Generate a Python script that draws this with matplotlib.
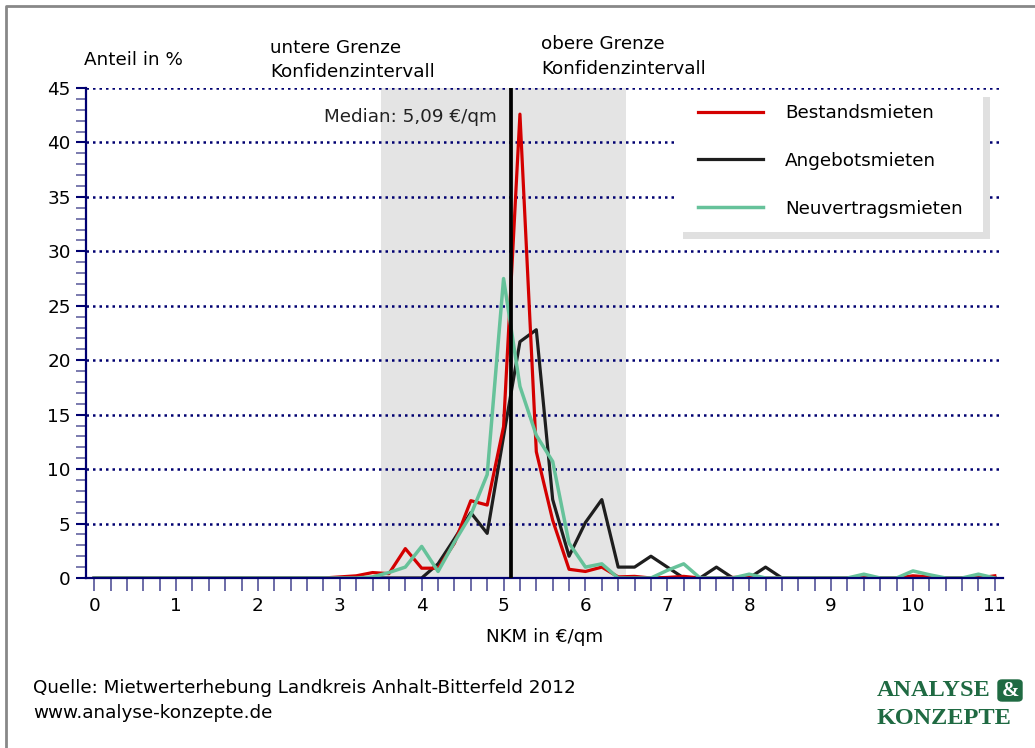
import numpy as np
import matplotlib as mpl
from matplotlib import pyplot as plt
from matplotlib.patches import Rectangle, FancyBboxPatch
from matplotlib.lines import Line2D

mpl.use('Agg')

# Mietpreisverteilung, Klassen zu je 0,20 EUR/qm (0 ... 11)
nkm = np.round(np.arange(0, 11.01, 0.2), 1)

bestandsmieten = [0, 0, 0, 0, 0, 0, 0, 0, 0, 0, 0, 0, 0, 0, 0,
                  0.1, 0.2, 0.5, 0.4, 2.7, 0.9, 0.9, 3.2, 7.1, 6.7,
                  13.9, 42.6, 11.6, 5.3, 0.8, 0.6, 1.0, 0.1, 0.15, 0,
                  0.05, 0.15, 0, 0, 0.05, 0.1, 0, 0, 0, 0,
                  0, 0, 0, 0, 0, 0.2, 0.1, 0, 0, 0, 0.2]
angebotsmieten = [0, 0, 0, 0, 0, 0, 0, 0, 0, 0, 0, 0, 0, 0, 0,
                  0, 0, 0, 0, 0, 0, 1.3, 3.6, 6.0, 4.1,
                  13.0, 21.7, 22.8, 7.2, 2.0, 5.1, 7.2, 1.0, 1.0, 2.0,
                  1.0, 0, 0, 1.0, 0, 0, 1.0, 0, 0, 0,
                  0, 0, 0, 0, 0, 0, 0, 0, 0, 0, 0]
neuvertragsmieten = [0, 0, 0, 0, 0, 0, 0, 0, 0, 0, 0, 0, 0, 0, 0,
                     0, 0, 0.1, 0.5, 1.0, 2.9, 0.6, 3.3, 5.8, 9.5,
                     27.5, 17.6, 13.1, 10.7, 3.2, 1.0, 1.3, 0, 0, 0,
                     0.7, 1.3, 0, 0, 0, 0.35, 0, 0, 0, 0,
                     0, 0, 0.35, 0, 0, 0.65, 0.3, 0, 0, 0.35, 0]

median = 5.09
konf_unten, konf_oben = 3.5, 6.5

navy = '#000070'
red = '#d40000'
black = '#1e1e1e'
green = '#66c29a'
logo_green = '#1f6a42'
fs = 13.2

plt.rcParams['font.family'] = ['DejaVu Sans']

W, H = 1035, 748
fig = plt.figure(figsize=(W / 100, H / 100), dpi=100)
ax = fig.add_axes([86 / W, 1 - 578 / H, (1003 - 86) / W, (578 - 88) / H])

ax.axvspan(konf_unten, konf_oben, color='#e4e4e4', lw=0, zorder=0.2)
for yv in range(5, 50, 5):
    ax.axhline(yv, color=navy, lw=1.8, ls=(0, (1, 1.6)), zorder=0.6)

ax.plot(nkm, angebotsmieten, color=black, lw=2.3, label='Angebotsmieten', zorder=3)
ax.plot(nkm, bestandsmieten, color=red, lw=2.3, label='Bestandsmieten', zorder=3.2)
ax.plot(nkm, neuvertragsmieten, color=green, lw=2.5, label='Neuvertragsmieten', zorder=3.4)
ax.axvline(median, color='black', lw=2.7, zorder=5)

ax.text(4.92, 42.3, 'Median: 5,09 €/qm', ha='right', va='center',
        fontsize=fs, color='#222222', zorder=6)

ax.set_xlim(-0.1, 11.1)
ax.set_ylim(0, 45)
ax.set_xticks(range(0, 12))
ax.set_xticks(np.arange(0, 11.01, 0.2), minor=True)
ax.set_yticks(range(0, 46, 5))
ax.set_yticks(range(0, 46), minor=True)

for s in ['top', 'right']:
    ax.spines[s].set_visible(False)
for s in ['left', 'bottom']:
    ax.spines[s].set_color(navy)
    ax.spines[s].set_linewidth(1.6)
    ax.spines[s].set_zorder(4)

ax.tick_params(axis='x', which='both', direction='out', length=9, width=1.3,
               color='#6060a0', labelsize=fs, pad=5)
ax.tick_params(axis='y', which='major', direction='out', length=7, width=1.5,
               color=navy, labelsize=fs, pad=4)
ax.tick_params(axis='y', which='minor', direction='out', length=7, width=1.3,
               color='#7070a8')

ax.set_xlabel('NKM in €/qm', fontsize=fs, labelpad=9)

# Legende mit grauem Schatten
ax.add_patch(Rectangle((683 / W, 1 - 239 / H), 307 / W, 142 / H, transform=fig.transFigure,
                       color='#e0e0e0', lw=0, zorder=6, clip_on=False))
ax.add_patch(Rectangle((676 / W, 1 - 232 / H), 307 / W, 142 / H, transform=fig.transFigure,
                       color='white', lw=0, zorder=7, clip_on=False))
handles, labels = ax.get_legend_handles_labels()
order = [1, 0, 2]
leg = ax.legend([handles[i] for i in order], [labels[i] for i in order],
                loc='upper left', bbox_to_anchor=(698 / W, 1 - 104 / H),
                bbox_transform=fig.transFigure, frameon=False, fontsize=fs,
                handlelength=3.55, handletextpad=1.2, labelspacing=1.63,
                borderpad=0, borderaxespad=0)
leg.set_zorder(8)

fig.text(84 / W, 1 - 60 / H, 'Anteil in %', fontsize=fs, va='center', ha='left')
fig.text(270 / W, 1 - 60 / H, 'untere Grenze\nKonfidenzintervall', fontsize=fs,
         va='center', ha='left', linespacing=1.45)
fig.text(541 / W, 1 - 56.5 / H, 'obere Grenze\nKonfidenzintervall', fontsize=fs,
         va='center', ha='left', linespacing=1.45)

fig.text(33 / W, 1 - 688 / H, 'Quelle: Mietwerterhebung Landkreis Anhalt-Bitterfeld 2012',
         fontsize=fs, va='center', ha='left')
fig.text(33 / W, 1 - 713 / H, 'www.analyse-konzepte.de', fontsize=fs, va='center', ha='left')

# Logo
fig.text(877 / W, 1 - 690 / H, 'ANALYSE', fontsize=17.5, fontweight='bold',
         family='Liberation Serif', color=logo_green, va='center', ha='left')
fig.text(877 / W, 1 - 718 / H, 'KONZEPTE', fontsize=17.5, fontweight='bold',
         family='Liberation Serif', color=logo_green, va='center', ha='left')
fig.patches.append(FancyBboxPatch((998 / W, 1 - 701 / H), 24 / W, 21 / H,
                                  boxstyle='round,pad=0,rounding_size=0.004',
                                  transform=fig.transFigure, color=logo_green))
fig.text(1010 / W, 1 - 690.5 / H, '&', fontsize=15, fontweight='bold',
         family='Liberation Serif', color='white', va='center', ha='center')

# Rahmen oben und links
fig.add_artist(Line2D([6 / W, 6 / W, 1], [0, 1 - 6 / H, 1 - 6 / H],
                      transform=fig.transFigure, color='#888888', lw=2))

fig.savefig('out.png', dpi=100)
